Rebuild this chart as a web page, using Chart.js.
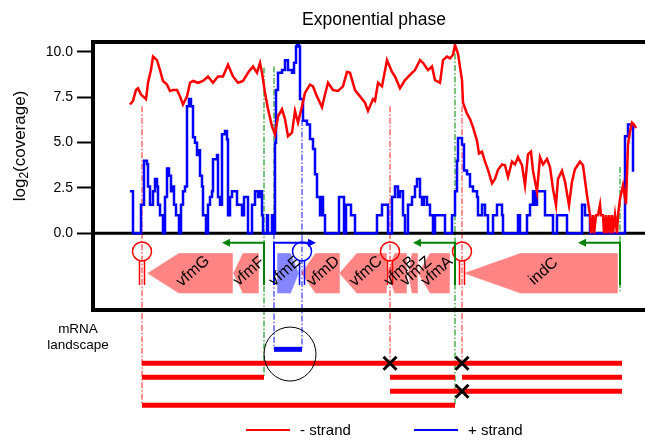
<!DOCTYPE html>
<html>
<head>
<meta charset="utf-8">
<script src="https://cdn.jsdelivr.net/npm/chart.js@4.4.1/dist/chart.umd.min.js"></script>
<style>
  html, body { margin: 0; padding: 0; background: #fff; }
</style>
</head>
<body>
<canvas id="myChart" width="645" height="440"></canvas>
<script>
// positions are 25 bp bins along the locus, coverage in log2
const minusPos = [
  37, 40, 43, 45, 48, 50, 53, 55, 58, 60,
  64, 67, 70, 74, 77, 80, 84, 87, 90, 94,
  97, 100, 105, 110, 115, 120, 125, 130, 135, 140,
  145, 150, 155, 160, 164, 167, 169, 172, 175, 179,
  182, 185, 189, 192, 195, 199, 202, 205, 209, 212,
  217, 220, 224, 229, 232, 235, 240, 245, 250, 254,
  257, 262, 267, 272, 275, 280, 282, 285, 289, 294,
  299, 302, 307, 312, 319, 322, 327, 330, 335, 339,
  342, 347, 350, 354, 357, 360, 362, 365, 369, 370,
  374, 377, 380, 384, 386, 389, 392, 395, 399, 402,
  405, 409, 412, 415, 419, 422, 425, 429, 432, 435,
  438, 440, 444, 447, 450, 454, 457, 460, 463, 465,
  469, 472, 476, 479, 482, 487, 490, 494, 497, 498,
  500, 501, 503, 505, 507, 508, 510, 511, 513, 514,
  516, 517, 519, 520, 522, 524, 525, 527, 530, 533,
  535, 537, 539, 541, 543
];
const minusCov = [
  7.1, 7.3, 7.9, 8.0, 7.65, 7.55, 7.4, 8.3, 9.0, 9.75,
  9.55, 9.0, 8.4, 8.2, 7.85, 7.9, 7.9, 7.55, 7.1, 7.55,
  8.3, 8.4, 8.3, 8.4, 8.65, 8.3, 8.65, 8.65, 9.3, 8.65,
  8.3, 8.4, 8.85, 9.2, 8.85, 9.4, 8.85, 7.75, 6.85, 5.9,
  5.45, 6.45, 6.85, 6.3, 5.35, 5.55, 6.75, 6.1, 7.0, 7.75,
  8.2, 8.1, 7.55, 6.95, 7.65, 8.3, 7.9, 7.85, 8.1, 8.9,
  8.85, 7.9, 7.55, 7.2, 6.75, 7.4, 7.3, 8.3, 8.1, 9.55,
  8.9, 8.65, 8.0, 8.45, 8.85, 9.0, 9.55, 9.4, 9.0, 9.2,
  8.45, 8.3, 9.55, 9.75, 9.65, 9.85, 10.4, 9.9, 8.45, 7.2,
  6.6, 6.3, 5.85, 5.1, 4.4, 4.5, 3.95, 3.5, 2.75, 3.0,
  3.5, 3.8, 3.75, 3.1, 3.95, 3.8, 4.2, 3.75, 2.65, 4.35,
  4.5, 3.45, 2.3, 4.2, 3.8, 4.1, 3.65, 2.45, 1.55, 3.0,
  3.45, 2.85, 1.55, 2.85, 3.55, 3.95, 3.75, 2.1, 1.0, 0,
  1.0, 0, 1.0, 1.0, 1.58, 1.0, 1.0, 0, 1.0, 0,
  1.0, 0, 1.0, 0, 1.0, 0, 1.0, 1.9, 2.65, 1.6,
  4.9, 5.6, 6.1, 6.0, 5.8
];
const plusPos = [
  37, 40, 48, 51, 54, 55, 57, 60, 62, 64,
  65, 67, 70, 72, 74, 76, 78, 79, 81, 83,
  86, 88, 90, 92, 94, 96, 98, 100, 102, 104,
  106, 107, 109, 110, 113, 115, 117, 119, 120, 124,
  125, 127, 129, 132, 134, 135, 137, 139, 144, 149,
  151, 155, 159, 162, 165, 167, 169, 170, 174, 175,
  179, 181, 182, 183, 185, 189, 192, 195, 199, 201,
  203, 204, 206, 207, 210, 214, 217, 220, 222, 224,
  227, 229, 230, 232, 246, 251, 253, 258, 262, 284,
  289, 295, 299, 302, 305, 307, 310, 312, 315, 319,
  322, 324, 327, 329, 331, 334, 337, 340, 342, 352,
  359, 362, 364, 365, 369, 371, 374, 377, 380, 384,
  385, 389, 392, 395, 400, 404, 409, 410, 425, 427,
  434, 437, 440, 442, 444, 452, 460, 464, 474, 489,
  492, 497, 532, 535, 539, 540
];
const plusCov = [
  2.32, 0, 1.58, 4.0, 3.81, 2.58, 1.58, 2.32, 3.0, 2.58,
  1.58, 1.0, 0, 2.0, 3.58, 3.17, 2.32, 2.58, 1.58, 1.0,
  0, 1.58, 2.32, 2.58, 7.0, 7.4, 7.0, 5.3, 5.0, 4.32,
  4.58, 3.17, 2.58, 1.0, 0, 1.58, 2.0, 2.32, 4.09, 4.32,
  2.0, 1.58, 5.46, 5.64, 5.17, 1.0, 2.0, 2.32, 1.58, 1.0,
  2.0, 0, 1.58, 2.32, 2.0, 2.32, 1.0, 0, 1.0, 0,
  1.0, 0, 5.0, 7.9, 8.85, 9.0, 9.55, 9.0, 8.85, 9.4,
  10.3, 10.6, 10.3, 7.4, 6.2, 6.0, 5.2, 4.65, 3.25, 2.0,
  1.0, 2.0, 1.0, 0, 2.0, 0, 1.58, 1.0, 0, 1.0,
  1.58, 0, 2.0, 2.58, 2.0, 2.32, 1.0, 0, 1.58, 2.0,
  2.58, 3.0, 2.0, 1.58, 2.0, 1.58, 1.0, 0, 1.0, 0,
  1.0, 2.32, 4.0, 5.25, 4.9, 3.46, 3.25, 2.58, 2.32, 2.0,
  1.0, 1.58, 1.0, 0, 1.0, 1.58, 1.0, 0, 1.0, 0,
  1.0, 1.58, 2.32, 1.58, 2.32, 1.0, 0, 1.0, 0, 1.58,
  1.0, 0, 5.35, 6.0, 5.9, 3.4
];
const yTicks = [0, 2.5, 5, 7.5, 10];

// gene map
const geneNames  = ['vfmG', 'vfmF', 'vfmE', 'vfmD', 'vfmC', 'vfmB', 'vfmZ', 'vfmA', 'indC'];
const geneStart  = [54, 140, 184, 208, 246, 294, 315, 325, 370];
const geneEnd    = [140, 166, 206, 247, 294, 314, 325, 357, 525];
const geneStrand = ['-', '-', '+', '-', '-', '-', '-', '-', '-'];

const termPos    = [49, 209, 297, 369];
const termStrand = ['-', '+', '-', '-'];
const promPos    = [171, 181, 362, 527];
const promStrand = ['-', '+', '-', '-'];

// dash-dot guides: position, colour key, top (coverage) and where they stop
const guidePos  = [49, 297, 369, 209, 171, 181, 181, 362, 527];
const guideKind = ['-', '-', '-', '+', 'p', 'p', '+', 'p', 'p'];
const guideTop  = [7.0, 7.0, 7.0, 6.25, 9.15, 9.2, 0, 10.55, 3.65];
const guideEnd  = [3, 0, 0, -1, 1, 'zero', -1, 3, 'gene'];

// mRNA landscape
const txStart  = [49, 49, 297, 369, 297, 49, 181];
const txEnd    = [529, 171, 362, 529, 529, 362, 209];
const txRow    = [0, 1, 1, 1, 2, 3, -1];
const txStrand = ['-', '-', '-', '-', '-', '-', '+'];
const stopPos  = [297, 369, 369];
const stopRow  = [0, 0, 2];

const FONT = "'Liberation Sans', Arial, Helvetica, sans-serif";
const RED = '#ff0000', BLUE = '#0000ff', GREEN = '#008000';
const guideColor = { '-': 'rgba(255,40,40,0.7)', '+': 'rgba(30,30,255,0.7)', 'p': 'rgba(0,140,0,0.7)' };

// track layout in y units of the chart
const T = { geneMid: -2.2, geneHalf: 1.12, hairpin: -1.0, stemBottom: -2.85, promArrow: -0.52,
            boxBottom: -4.23, row0: -7.17, rowStep: 0.77, circle: -6.66 };
const rowY = r => T.row0 - r * T.rowStep;

function guideBottom(e) {
  if (e === 'zero') return 0;
  if (e === 'gene') return -3.2;
  return rowY(e);
}

const locusPlugin = {
  id: 'locus',
  beforeDatasetsDraw(chart) {
    const ctx = chart.ctx, xs = chart.scales.x, ys = chart.scales.y;
    const area = chart.chartArea;
    ctx.save();
    ctx.lineWidth = 1.5;
    ctx.setLineDash([6, 2, 1.5, 2]);
    guidePos.forEach((p, i) => {
      const x = xs.getPixelForValue(p);
      ctx.strokeStyle = guideColor[guideKind[i]];
      ctx.beginPath();
      ctx.moveTo(x, ys.getPixelForValue(guideTop[i]));
      ctx.lineTo(x, ys.getPixelForValue(guideBottom(guideEnd[i])));
      ctx.stroke();
    });
    ctx.setLineDash([]);
    // zero line
    ctx.strokeStyle = '#000';
    ctx.lineWidth = 3;
    const y0 = ys.getPixelForValue(0);
    ctx.beginPath(); ctx.moveTo(area.left, y0); ctx.lineTo(area.right, y0); ctx.stroke();
    ctx.restore();
  },
  afterDatasetsDraw(chart) {
    const ctx = chart.ctx, xs = chart.scales.x, ys = chart.scales.y;
    const area = chart.chartArea;
    const X = v => xs.getPixelForValue(v), Y = v => ys.getPixelForValue(v);
    ctx.save();

    // genes
    const yt = Y(T.geneMid + T.geneHalf), yb = Y(T.geneMid - T.geneHalf), ym = Y(T.geneMid);
    geneNames.forEach((g, i) => {
      const s = geneStart[i], e = geneEnd[i], h = (e - s) * 0.37;
      ctx.beginPath();
      if (geneStrand[i] === '-') {
        ctx.moveTo(X(s), ym); ctx.lineTo(X(s + h), yt); ctx.lineTo(X(e), yt);
        ctx.lineTo(X(e), yb); ctx.lineTo(X(s + h), yb);
      } else {
        ctx.moveTo(X(e), ym); ctx.lineTo(X(e - h), yt); ctx.lineTo(X(s), yt);
        ctx.lineTo(X(s), yb); ctx.lineTo(X(e - h), yb);
      }
      ctx.closePath();
      ctx.fillStyle = geneStrand[i] === '-' ? 'rgba(255,0,0,0.48)' : 'rgba(0,0,255,0.48)';
      ctx.fill();
      ctx.strokeStyle = 'rgba(255,255,255,0.45)';
      ctx.lineWidth = 1;
      ctx.stroke();
    });

    // terminators
    termPos.forEach((p, i) => {
      const x = X(p), cy = Y(T.hairpin), r = 9.5;
      ctx.strokeStyle = termStrand[i] === '-' ? RED : BLUE;
      ctx.lineWidth = 1.5;
      ctx.beginPath(); ctx.arc(x, cy, r, 0, Math.PI * 2); ctx.stroke();
      ctx.beginPath();
      ctx.moveTo(x - 2.5, cy + r - 0.5); ctx.lineTo(x - 2.5, Y(T.stemBottom));
      ctx.moveTo(x + 2.5, cy + r - 0.5); ctx.lineTo(x + 2.5, Y(T.stemBottom));
      ctx.stroke();
    });

    // promoters
    promPos.forEach((p, i) => {
      const minus = promStrand[i] === '-';
      const col = minus ? GREEN : BLUE;
      const x = X(p), ya = Y(T.promArrow), x2 = X(minus ? p - 42 : p + 42);
      ctx.strokeStyle = col; ctx.fillStyle = col; ctx.lineWidth = 2;
      ctx.beginPath();
      ctx.moveTo(x, ya - 1); ctx.lineTo(x, Y(T.stemBottom));
      ctx.moveTo(x, ya); ctx.lineTo(x2 + (minus ? 6 : -6), ya);
      ctx.stroke();
      ctx.beginPath();
      ctx.moveTo(x2, ya);
      ctx.lineTo(x2 + (minus ? 8 : -8), ya - 4);
      ctx.lineTo(x2 + (minus ? 8 : -8), ya + 4);
      ctx.closePath(); ctx.fill();
    });

    // gene labels
    ctx.fillStyle = '#000';
    ctx.font = `16px ${FONT}`;
    ctx.textAlign = 'center';
    ctx.textBaseline = 'middle';
    geneNames.forEach((g, i) => {
      const c = (geneStart[i] + geneEnd[i]) / 2 + (geneStrand[i] === '-' ? 3 : -3);
      ctx.save();
      ctx.translate(X(c), Y(T.geneMid + 0.1));
      ctx.rotate(-0.72);
      ctx.fillText(g, 0, 0);
      ctx.restore();
    });

    // transcripts
    ctx.lineWidth = 5;
    ctx.lineCap = 'butt';
    txStart.forEach((s, i) => {
      ctx.strokeStyle = txStrand[i] === '-' ? RED : BLUE;
      const y = Y(rowY(txRow[i]));
      ctx.beginPath(); ctx.moveTo(X(s), y); ctx.lineTo(X(txEnd[i]), y); ctx.stroke();
    });
    // blocked read-through
    ctx.strokeStyle = '#000';
    ctx.lineWidth = 3;
    stopPos.forEach((p, i) => {
      const x = X(p), y = Y(rowY(stopRow[i])), d = 6.5;
      ctx.beginPath();
      ctx.moveTo(x - d, y - d); ctx.lineTo(x + d, y + d);
      ctx.moveTo(x + d, y - d); ctx.lineTo(x - d, y + d);
      ctx.stroke();
    });
    // highlight circle around the + strand transcript
    ctx.lineWidth = 1;
    ctx.beginPath();
    ctx.ellipse(X(197), Y(T.circle), 26, 27, 0, 0, Math.PI * 2);
    ctx.stroke();

    // frame
    ctx.lineWidth = 4;
    ctx.beginPath();
    ctx.moveTo(area.left, area.top); ctx.lineTo(area.right, area.top);
    ctx.moveTo(area.left, area.top - 2); ctx.lineTo(area.left, Y(T.boxBottom) + 2);
    ctx.moveTo(area.left - 2, Y(T.boxBottom)); ctx.lineTo(area.right, Y(T.boxBottom));
    ctx.stroke();
    ctx.restore();
  },
  afterDraw(chart) {
    const ctx = chart.ctx;
    ctx.save();
    ctx.fillStyle = '#000';
    // title
    ctx.font = `17.5px ${FONT}`;
    ctx.textAlign = 'center';
    ctx.textBaseline = 'alphabetic';
    ctx.fillText('Exponential phase', 374, 25);
    // y axis title with subscript
    ctx.translate(20, 146);
    ctx.rotate(-Math.PI / 2);
    ctx.textAlign = 'left';
    ctx.textBaseline = 'middle';
    ctx.font = `17px ${FONT}`;
    const w1 = ctx.measureText('log').width;
    const w3 = ctx.measureText('(coverage)').width;
    ctx.font = `12px ${FONT}`;
    const w2 = ctx.measureText('2').width;
    let x0 = -(w1 + w2 + w3) / 2;
    ctx.font = `17px ${FONT}`;
    ctx.fillText('log', x0, 0);
    ctx.font = `12px ${FONT}`;
    ctx.fillText('2', x0 + w1, 5);
    ctx.font = `17px ${FONT}`;
    ctx.fillText('(coverage)', x0 + w1 + w2, 0);
    ctx.setTransform(1, 0, 0, 1, 0, 0);
    // mRNA landscape label
    ctx.font = `13.5px ${FONT}`;
    ctx.textAlign = 'center';
    ctx.fillText('mRNA', 78, 329);
    ctx.fillText('landscape', 78, 345);
    // legend
    ctx.font = `15px ${FONT}`;
    ctx.textAlign = 'left';
    const items = [[246, 300], [414, 468]];
    chart.data.datasets.forEach((ds, i) => {
      const [lx, tx] = items[i];
      ctx.strokeStyle = ds.borderColor;
      ctx.lineWidth = 1.8;
      ctx.beginPath(); ctx.moveTo(lx, 430); ctx.lineTo(lx + 44, 430); ctx.stroke();
      ctx.fillText(ds.label, tx, 431);
    });
    ctx.restore();
  }
};

const ctx = document.getElementById('myChart');
const chart = new Chart(ctx, {
  type: 'line',
  data: {
    datasets: [{
      label: '- strand',
      data: minusPos.map((p, i) => ({ x: p, y: minusCov[i] })),
      borderColor: RED,
      borderWidth: 2.5,
      pointRadius: 0,
      tension: 0
    }, {
      label: '+ strand',
      data: plusPos.map((p, i) => ({ x: p, y: plusCov[i] })),
      borderColor: BLUE,
      borderWidth: 2.5,
      pointRadius: 0,
      stepped: true
    }]
  },
  options: {
    responsive: false,
    animation: false,
    devicePixelRatio: 1,
    layout: { padding: { top: 42, right: 0, bottom: 0, left: 0 }, autoPadding: false },
    plugins: { legend: { display: false }, title: { display: false }, tooltip: { enabled: false } },
    scales: {
      x: { type: 'linear', display: false, min: 0, max: 552 },
      y: {
        min: -11.4,
        max: 10.55,
        afterBuildTicks: s => { s.ticks = yTicks.map(v => ({ value: v })); },
        afterFit: s => { s.width = 93; s.paddingTop = 0; s.paddingBottom = 0; },
        ticks: {
          color: '#000',
          padding: 4,
          font: { size: 14, family: FONT },
          callback: v => v.toFixed(1)
        },
        grid: { drawOnChartArea: false, drawTicks: true, tickLength: 16, tickColor: '#000', tickWidth: 2 },
        border: { display: false }
      }
    }
  },
  plugins: [locusPlugin]
});
</script>
</body>
</html>
